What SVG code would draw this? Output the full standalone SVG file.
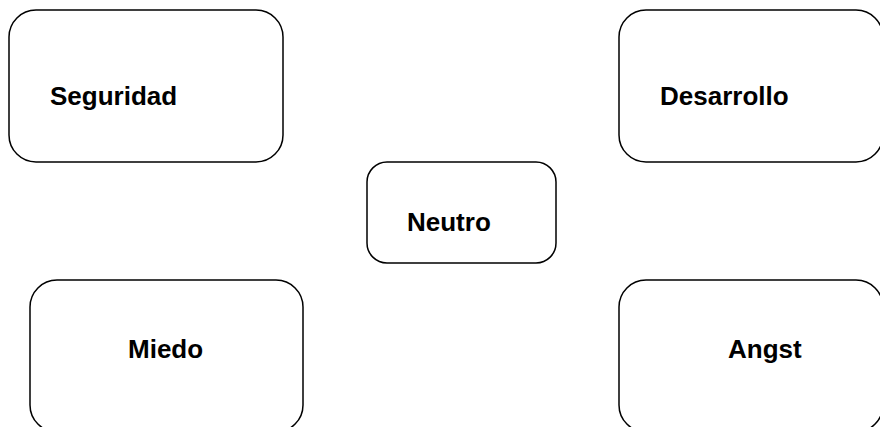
<svg xmlns="http://www.w3.org/2000/svg" width="880" height="427" viewBox="0 0 880 427">
  <style>
    .box { fill: #ffffff; stroke: #000000; stroke-width: 1.5; }
    .label { font-family: "Liberation Sans", Arial, sans-serif; font-weight: bold; font-size: 26px; fill: #000000; }
  </style>
  <rect width="880" height="427" fill="#ffffff"/>
  <g id="connectors"></g>
  <g id="seguridad">
    <rect class="box" x="9" y="10" width="274" height="152" rx="27" ry="27"/>
    <text class="label" x="50" y="105">Seguridad</text>
  </g>
  <g id="desarrollo">
    <rect class="box" x="619" y="10" width="264" height="152" rx="27" ry="27"/>
    <text class="label" x="660" y="104.5">Desarrollo</text>
  </g>
  <g id="neutro">
    <rect class="box" x="367" y="162" width="189" height="101" rx="20" ry="20"/>
    <text class="label" x="407" y="231">Neutro</text>
  </g>
  <g id="miedo">
    <rect class="box" x="30" y="280" width="273" height="152" rx="27" ry="27"/>
    <text class="label" x="128" y="358">Miedo</text>
  </g>
  <g id="angst">
    <rect class="box" x="619" y="280" width="264" height="152" rx="27" ry="27"/>
    <text class="label" x="728" y="358">Angst</text>
  </g>
</svg>
